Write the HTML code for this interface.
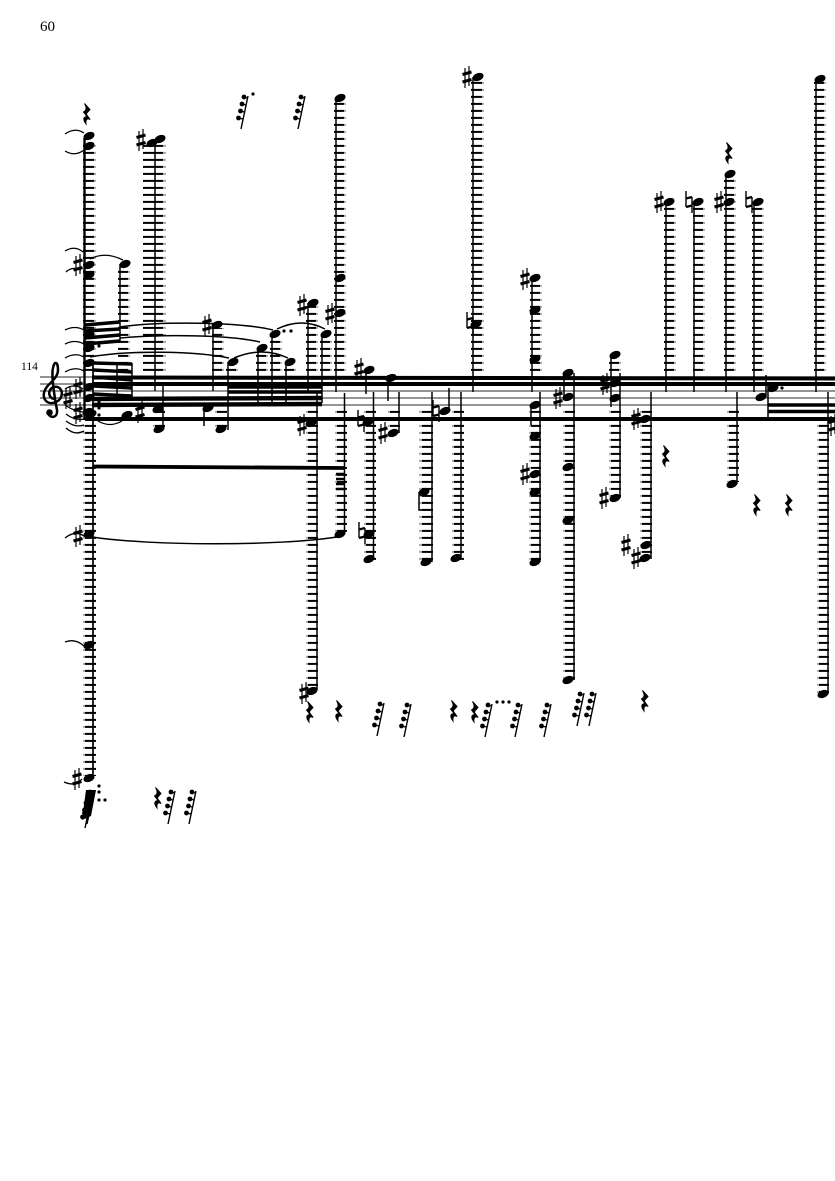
<!DOCTYPE html>
<html><head><meta charset="utf-8"><style>
html,body{margin:0;padding:0;background:#fff}
svg{display:block}
text{font-family:"Liberation Serif",serif;fill:#000}
</style></head><body>
<svg width="835" height="1181" viewBox="0 0 835 1181" xmlns="http://www.w3.org/2000/svg">
<defs>
<pattern id="L" patternUnits="userSpaceOnUse" width="50" height="7"><rect x="0" y="4.900" width="50" height="2" fill="#000"/></pattern>
<pattern id="M" patternUnits="userSpaceOnUse" width="50" height="7"><rect x="0" y="4.900" width="50" height="2" fill="#aaa"/></pattern>
<ellipse id="n" cx="0" cy="0" rx="5.800" ry="3.800" transform="rotate(-22)"/>
<g id="s" stroke="#000" fill="none"><path d="M-2 -9V11M2 -11V9" stroke-width="1.200"/><path d="M-4.500 -2.500L4.500 -5M-4.500 5L4.500 2.500" stroke-width="3"/></g>
<g id="t" stroke="#000" fill="none"><path d="M-3 -11V5M3 -5V11" stroke-width="1.400"/><path d="M-3 -3.500L3 -5M-3 5L3 3.500" stroke-width="2.200"/></g>
<path id="r" d="M-2.500 -10.500L3 -4.500C1.500 -2.500 -1 -1 -.5 .5L3.200 5.500C.5 4 -1.500 5 -1 10C-4 6 -4.200 3 0 2.500L-3.500 -2C-1.200 -3.500 .5 -5 -2.500 -10.500Z" stroke="#000" stroke-width="1"/>
<g id="g"><path d="M0 0L-7 33" stroke="#000" stroke-width="1.400" fill="none"/><circle cx="-4" cy="1" r="2.400"/><circle cx="-6" cy="8" r="2.400"/><circle cx="-7.500" cy="15" r="2.400"/><circle cx="-9.500" cy="22" r="2.400"/><path d="M-4 1L-.5 2M-6 8L-2 9M-7.500 15L-3.500 16M-9.500 22L-5 23" stroke="#000" stroke-width="1.200"/></g>
</defs>

<text x="40" y="31" font-size="15">60</text>
<text x="21" y="370" font-size="11.500">114</text>

<!-- staff -->
<g stroke="#555" stroke-width="1.300"><path d="M40 377H835M40 384H835M40 391H835M40 398H835M40 405H835"/></g>

<!-- ledger lines -->
<g fill="url(#L)">
<rect x="83" y="142" width="11" height="230"/>
<rect x="118" y="266" width="10" height="106"/>
<rect x="143" y="142" width="20" height="230"/>
<rect x="212" y="328" width="10" height="44"/>
<rect x="226" y="365" width="10" height="7"/>
<rect x="256" y="352" width="10" height="20"/>
<rect x="270" y="338" width="10" height="34"/>
<rect x="284" y="365" width="10" height="7"/>
<rect x="306" y="306" width="10" height="66"/>
<rect x="320" y="337" width="10" height="35"/>
<rect x="334" y="100" width="10" height="272"/>
<rect x="471" y="80" width="11" height="292"/>
<rect x="530" y="281" width="10" height="91"/>
<rect x="609" y="358" width="10" height="14"/>
<rect x="664" y="205" width="10" height="167"/>
<rect x="693" y="205" width="10" height="167"/>
<rect x="724" y="177" width="10" height="195"/>
<rect x="752" y="205" width="10" height="167"/>
<rect x="814" y="82" width="10" height="290"/>
<rect x="85" y="410" width="11" height="366"/>
<rect x="155" y="410" width="10" height="20"/>
<rect x="217" y="410" width="10" height="20"/>
<rect x="308" y="410" width="10" height="280"/>
<rect x="337" y="410" width="10" height="122"/>
<rect x="366" y="410" width="10" height="150"/>
<rect x="390" y="410" width="10" height="22"/>
<rect x="422" y="410" width="11" height="150"/>
<rect x="454" y="410" width="10" height="150"/>
<rect x="531" y="410" width="10" height="150"/>
<rect x="565" y="410" width="10" height="270"/>
<rect x="611" y="410" width="10" height="88"/>
<rect x="642" y="410" width="10" height="148"/>
<rect x="729" y="410" width="10" height="72"/>
<rect x="819" y="410" width="10" height="284"/>
</g>
<g fill="url(#M)">
<rect x="94" y="142" width="2" height="230"/>
<rect x="128" y="266" width="2" height="106"/>
<rect x="163" y="142" width="3" height="230"/>
<rect x="222" y="328" width="2" height="44"/>
<rect x="236" y="365" width="2" height="7"/>
<rect x="266" y="352" width="2" height="20"/>
<rect x="280" y="338" width="2" height="34"/>
<rect x="294" y="365" width="2" height="7"/>
<rect x="316" y="306" width="2" height="66"/>
<rect x="330" y="337" width="2" height="35"/>
<rect x="344" y="100" width="2" height="272"/>
<rect x="482" y="80" width="2" height="292"/>
<rect x="540" y="281" width="2" height="91"/>
<rect x="619" y="358" width="2" height="14"/>
<rect x="674" y="205" width="2" height="167"/>
<rect x="703" y="205" width="2" height="167"/>
<rect x="734" y="177" width="2" height="195"/>
<rect x="762" y="205" width="2" height="167"/>
<rect x="824" y="82" width="2" height="290"/>
<rect x="83" y="410" width="2" height="366"/>
<rect x="153" y="410" width="2" height="20"/>
<rect x="215" y="410" width="2" height="20"/>
<rect x="306" y="410" width="2" height="280"/>
<rect x="335" y="410" width="2" height="122"/>
<rect x="364" y="410" width="2" height="150"/>
<rect x="388" y="410" width="2" height="22"/>
<rect x="419" y="410" width="3" height="150"/>
<rect x="452" y="410" width="2" height="150"/>
<rect x="529" y="410" width="2" height="150"/>
<rect x="563" y="410" width="2" height="270"/>
<rect x="609" y="410" width="2" height="88"/>
<rect x="640" y="410" width="2" height="148"/>
<rect x="727" y="410" width="2" height="72"/>
<rect x="817" y="410" width="2" height="284"/>
</g>

<!-- stems -->
<g stroke="#000" stroke-width="1.500" fill="none">
<path d="M84.500 138V420" stroke-width="2.400"/>
<path d="M93 363V778" stroke-width="1.700"/>
<path d="M120 264V341M117 365V396M132 363V398M155 140V391M163 383V430M204 409V426M213 326V391M228 362V430M258 348V403M272 334V403M286 362V403M308 303V391M322 334V403M336 98V392M317 391V690M344.500 393V534M366 372V394M388 375V401M373.500 392V559M399 392V433M432 392V562M449 388V411M419 492V510H426M461 392V559M473 77V392M532 277V392M540 392V562M531 405V425M574 373V680M564 373V397M611 354V407M620 373V498M651 392V559M666 202V392M694 202V392M726 174V392M737 392V484M754 202V392M766 375V397M816 78V392M828 392V694M768 385V418"/>
</g>

<!-- beams -->
<g fill="none" stroke="#000">
<path d="M92 377.500L835 378.500" stroke-width="4"/>
<path d="M92 384L835 384" stroke-width="4"/>
<path d="M92 399L322 398" stroke-width="4.400"/>
<path d="M92 405L322 404" stroke-width="4.400"/>
<path d="M85 419L835 419" stroke-width="4"/>
<path d="M93 363L132 364" stroke-width="3.400"/>
<path d="M93 370L132 372" stroke-width="3.400"/>
<path d="M93 377L132 380" stroke-width="3.400"/>
<path d="M93 386L132 388" stroke-width="3.400"/>
<path d="M93 394L132 396" stroke-width="3.400"/>
<path d="M85 325L120 322" stroke-width="3.600"/>
<path d="M85 331L120 329" stroke-width="3.600"/>
<path d="M85 338L120 335" stroke-width="3.600"/>
<path d="M85 344L120 341" stroke-width="3.600"/>
<path d="M228 387L322 387" stroke-width="3.400"/>
<path d="M228 392L322 392" stroke-width="3.400"/>
<path d="M93 466.500L345 468" stroke-width="3.800"/>
<path d="M336 474H345M336 479H345M336 484H345M336 489H345" stroke-width="2.400"/>
<path d="M768 405L835 405" stroke-width="3.600"/>
<path d="M768 411.500L835 411.500" stroke-width="3.600"/>
</g>

<!-- slurs -->
<g fill="none" stroke="#000" stroke-width="1.300">
<path d="M65 134Q75 127 84 133M65 151Q75 157 84 150"/>
<path d="M65 251Q75 245 83 252M66 272Q72 266 81 270"/>
<path d="M65 330Q75 325 84 330M65 344Q75 339 84 344M65 358Q75 352 84 357M65 372Q75 366 84 371M65 389Q74 383 83 389"/>
<path d="M65 405Q75 412 84 412M66 414Q75 421 84 419M66 421Q75 428 84 425M66 428Q75 436 84 431"/>
<path d="M65 538Q75 530 84 536M65 642Q75 638 84 646M64 782Q75 787 82 779"/>
<path d="M90 259Q105 251 123 260"/>
<path d="M120 327C160 321 240 322 273 330" stroke-width="1.500"/>
<path d="M120 338C165 334 230 335 260 342" stroke-width="1.500"/>
<path d="M90 357C130 350 195 351 229 358" stroke-width="1.500"/>
<path d="M234 358Q262 346 288 358" stroke-width="1.500"/>
<path d="M277 329Q302 317 325 329" stroke-width="1.500"/>
<path d="M98 421Q110 428 122 421"/>
<path d="M92 537C150 546 280 546 337 537" stroke-width="1.500"/>
</g>

<!-- clef -->
<g fill="none" stroke="#000">
<path d="M55 399C48 399 47 389 54 387C63 385 65 398 56 402C47 406 41 398 45 390C47 384 58 379 58 370C58 361 54 361 53 368C51 376 55 400 57 410C58 418 50 419 48 413" stroke-width="2.500"/>
<circle cx="49.500" cy="412.500" r="2.800" fill="#000"/>
</g>

<!-- note heads -->
<g>
<use href="#n" x="89" y="136"/><use href="#n" x="89" y="146"/><use href="#n" x="89" y="265"/><use href="#n" x="89" y="275"/><use href="#n" x="89" y="335"/><use href="#n" x="89" y="348"/><use href="#n" x="89" y="363"/><use href="#n" x="89" y="387"/><use href="#n" x="89" y="398"/><use href="#n" x="88" y="412"/><use href="#n" x="91" y="414"/>
<use href="#n" x="125" y="264"/><use href="#n" x="127" y="415"/>
<use href="#n" x="152" y="143"/><use href="#n" x="160" y="139"/>
<use href="#n" x="158" y="409"/><use href="#n" x="159" y="429"/>
<use href="#n" x="208" y="408"/><use href="#n" x="221" y="429"/>
<use href="#n" x="217" y="325"/><use href="#n" x="233" y="362"/><use href="#n" x="262" y="348"/><use href="#n" x="275" y="334"/><use href="#n" x="290" y="362"/>
<use href="#n" x="313" y="303"/><use href="#n" x="326" y="334"/>
<use href="#n" x="340" y="98"/><use href="#n" x="340" y="278"/><use href="#n" x="340" y="313"/>
<use href="#n" x="89" y="534"/><use href="#n" x="89" y="645"/><use href="#n" x="89" y="778"/>
<use href="#n" x="311" y="423"/><use href="#n" x="312" y="691"/>
<use href="#n" x="340" y="534"/>
<use href="#n" x="369" y="370"/><use href="#n" x="391" y="378"/>
<use href="#n" x="368" y="422"/><use href="#n" x="369" y="534"/><use href="#n" x="369" y="559"/>
<use href="#n" x="393" y="433"/>
<use href="#n" x="424" y="492"/><use href="#n" x="426" y="562"/>
<use href="#n" x="445" y="411"/><use href="#n" x="456" y="558"/>
<use href="#n" x="478" y="77"/><use href="#n" x="476" y="324"/>
<use href="#n" x="535" y="278"/><use href="#n" x="535" y="310"/><use href="#n" x="535" y="359"/>
<use href="#n" x="535" y="405"/><use href="#n" x="535" y="436"/><use href="#n" x="535" y="474"/><use href="#n" x="535" y="492"/><use href="#n" x="535" y="562"/>
<use href="#n" x="568" y="373"/><use href="#n" x="568" y="397"/><use href="#n" x="568" y="467"/><use href="#n" x="568" y="520"/><use href="#n" x="568" y="680"/>
<use href="#n" x="615" y="355"/><use href="#n" x="615" y="383"/><use href="#n" x="615" y="398"/><use href="#n" x="615" y="498"/>
<use href="#n" x="645" y="419"/><use href="#n" x="646" y="545"/><use href="#n" x="645" y="558"/>
<use href="#n" x="669" y="202"/><use href="#n" x="698" y="202"/><use href="#n" x="730" y="174"/><use href="#n" x="729" y="202"/><use href="#n" x="758" y="202"/>
<use href="#n" x="732" y="484"/><use href="#n" x="761" y="397"/><use href="#n" x="773" y="388"/>
<use href="#n" x="820" y="79"/><use href="#n" x="823" y="694"/>
</g>

<!-- sharps -->
<g>
<use href="#s" x="78" y="388"/><use href="#s" x="68" y="398"/><use href="#s" x="78" y="413"/>
<use href="#s" x="141" y="140"/><use href="#s" x="78" y="265"/><use href="#s" x="207" y="325"/><use href="#s" x="302" y="305"/><use href="#s" x="330" y="314"/><use href="#s" x="359" y="369"/><use href="#s" x="383" y="433"/><use href="#s" x="467" y="77"/><use href="#s" x="525" y="279"/><use href="#s" x="525" y="474"/><use href="#s" x="558" y="398"/><use href="#s" x="605" y="384"/><use href="#s" x="636" y="419"/><use href="#s" x="604" y="498"/><use href="#s" x="626" y="545"/><use href="#s" x="636" y="558"/><use href="#s" x="659" y="202"/><use href="#s" x="719" y="202"/><use href="#s" x="304" y="693"/><use href="#s" x="302" y="425"/><use href="#s" x="78" y="536"/><use href="#s" x="77" y="779"/><use href="#s" x="140" y="412"/><use href="#s" x="833" y="425"/>
</g>
<!-- naturals -->
<g>
<use href="#t" x="470" y="323"/><use href="#t" x="361" y="421"/><use href="#t" x="362" y="533"/><use href="#t" x="436" y="411"/><use href="#t" x="689" y="202"/><use href="#t" x="749" y="202"/>
</g>
<!-- rests -->
<g>
<use href="#r" x="87" y="114"/><use href="#r" x="729" y="153"/><use href="#r" x="666" y="456"/><use href="#r" x="757" y="505"/><use href="#r" x="789" y="505"/><use href="#r" x="645" y="701"/><use href="#r" x="310" y="712"/><use href="#r" x="339" y="711"/><use href="#r" x="454" y="711"/><use href="#r" x="475" y="712"/><use href="#r" x="158" y="798"/>
</g>
<!-- small groups -->
<g>
<use href="#g" x="248" y="96"/><use href="#g" x="305" y="96"/>
<use href="#g" x="384" y="703"/><use href="#g" x="411" y="704"/><use href="#g" x="492" y="704"/><use href="#g" x="522" y="704"/><use href="#g" x="551" y="704"/><use href="#g" x="584" y="693"/><use href="#g" x="596" y="693"/>
<use href="#g" x="175" y="791"/><use href="#g" x="196" y="791"/>
<use href="#g" x="94" y="791"/><use href="#g" x="92" y="795"/>
<path d="M86 790H96L91 816L82 820Z"/>
<circle cx="253" cy="94" r="1.600"/>
<circle cx="497" cy="702" r="1.600"/><circle cx="503" cy="702" r="1.600"/><circle cx="509" cy="702" r="1.600"/>
<circle cx="99" cy="786" r="1.600"/><circle cx="99" cy="792" r="1.600"/><circle cx="99" cy="800" r="1.600"/><circle cx="105" cy="800" r="1.600"/>
<circle cx="99" cy="346" r="1.600"/><circle cx="99" cy="402" r="1.600"/><circle cx="99" cy="408" r="1.600"/><circle cx="99" cy="415" r="1.600"/>
<circle cx="284" cy="331" r="1.600"/><circle cx="291" cy="331" r="1.600"/><circle cx="782" cy="388" r="1.600"/>
</g>
</svg>
</body></html>
